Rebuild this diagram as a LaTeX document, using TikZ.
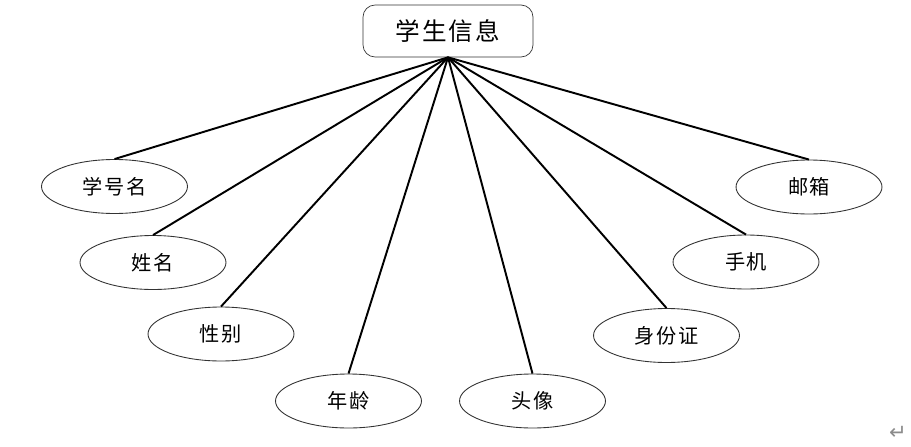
\documentclass[tikz,border=0pt]{standalone}
\usepackage{fontspec}
\newfontfamily\cjk[LetterSpace=8]{Noto Sans CJK SC}
\newfontfamily\symfont{DejaVu Sans}
\usetikzlibrary{shapes.geometric}

\tikzset{
    entity/.style={draw=black!80, rounded corners=0.24cm, minimum width=3.4cm, minimum height=1.04cm, font=\cjk\fontsize{14}{16}\selectfont},
    attr/.style={draw=black!80, ellipse, line width=0.5pt, minimum width=2.92cm, minimum height=1.08cm, inner sep=0pt, font=\cjk\fontsize{11.5}{14}\selectfont},
    link/.style={line width=1.1pt}
}

\begin{document}
\begin{tikzpicture}[x=0.02cm, y=-0.02cm]
    \useasboundingbox (0,0) rectangle (911,446);
    \node[entity] (info) at (448,31) {学生信息};

    \node[attr] (sno) at (114.5,186.5) {学号名};
    \node[attr] (name) at (153,262.5) {姓名};
    \node[attr] (sex) at (221,334) {性别};
    \node[attr] (age) at (348.5,401) {年龄};
    \node[attr] (photo) at (532.5,401) {头像};
    \node[attr] (idcard) at (666.5,335.5) {身份证};
    \node[attr] (phone) at (746,262) {手机};
    \node[attr] (mail) at (809,187) {邮箱};

    % attributes hang from the bottom of the entity
    \foreach \a in {sno,name,sex,age,photo,idcard,phone,mail}
        \draw[link] (info.south) -- (\a.north);

    \node[text=black!45, font=\symfont\large] (ret) at (898,433) {↵};
\end{tikzpicture}
\end{document}
